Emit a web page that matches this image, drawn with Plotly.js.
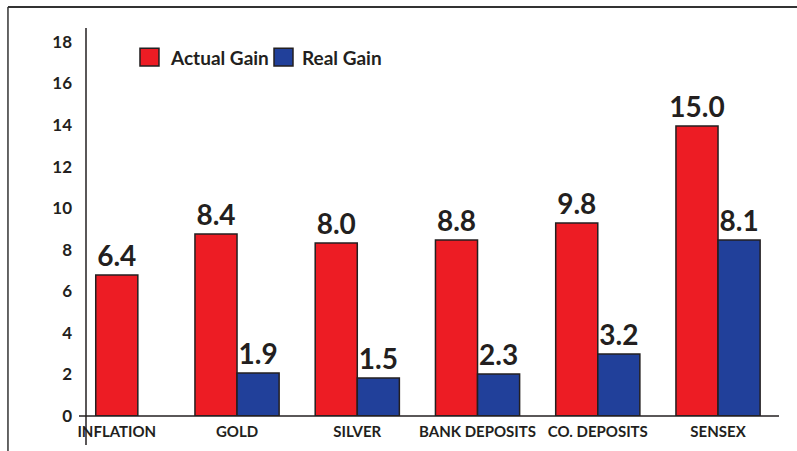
<!DOCTYPE html>
<html>
<head>
<meta charset="utf-8">
<script src="https://cdn.plot.ly/plotly-3.0.1.min.js"></script>
<style>html,body{margin:0;padding:0;background:#fff;}#chart{width:797px;height:451px;}</style>
</head>
<body>
<div id="chart"></div>
<script>
// Categories and tick labels
var categories = ['INFLATION', 'GOLD', 'SILVER', 'BANK DEPOSITS', 'CO. DEPOSITS', 'SENSEX'];
// Bar heights as drawn in the picture
var actualGain = [6.79, 8.76, 8.33, 8.47, 9.29, 13.96];
var realGain = [null, 2.07, 1.83, 2.02, 2.98, 8.47];
// Value labels printed above the bars
var actualLabels = ['6.4', '8.4', '8.0', '8.8', '9.8', '15.0'];
var realLabels = ['', '1.9', '1.5', '2.3', '3.2', '8.1'];
var seriesNames = ['Actual Gain', 'Real Gain'];
var yTicks = [0, 2, 4, 6, 8, 10, 12, 14, 16, 18];

var RED = '#ed1c24', BLUE = '#21409a', INK = '#231f20';
var FONT = 'Lato, "Open Sans", sans-serif';
var BAR_W = 0.35;

// a category with no real-gain bar has its single bar centred
var actualOffset = realGain.map(function (v) { return v === null ? -BAR_W / 2 : -BAR_W; });

var labelFont = {family: FONT, size: 28, color: INK, weight: 700};
var traces = [
  {type: 'bar', name: seriesNames[0], x: categories, y: actualGain, text: actualLabels,
   width: BAR_W, offset: actualOffset,
   textposition: 'outside', constraintext: 'none', cliponaxis: false, textfont: labelFont,
   marker: {color: RED, line: {color: INK, width: 1.5}}, hoverinfo: 'none'},
  {type: 'bar', name: seriesNames[1], x: categories, y: realGain, text: realLabels,
   width: BAR_W, offset: 0,
   textposition: 'outside', constraintext: 'none', cliponaxis: false, textfont: labelFont,
   marker: {color: BLUE, line: {color: INK, width: 1.5}}, hoverinfo: 'none'}
];

var lineCol = '#333333';
var layout = {
  width: 797, height: 451,
  margin: {l: 86, r: 18, t: 28, b: 35, pad: 0},
  paper_bgcolor: '#ffffff', plot_bgcolor: '#ffffff',
  showlegend: false,
  barmode: 'overlay',
  font: {family: FONT, color: INK},
  xaxis: {type: 'category', range: [-0.256, 5.507], showline: false, showgrid: false,
          zeroline: false, ticks: '', ticklabelstandoff: 5,
          tickfont: {family: FONT, size: 15, color: INK, weight: 700}, fixedrange: true},
  yaxis: {range: [0, 18.67], tickvals: yTicks, ticktext: yTicks.map(String),
          showline: false, showgrid: false, zeroline: false, ticks: '',
          ticklabelstandoff: 13,
          tickfont: {family: FONT, size: 17, color: INK, weight: 700}, fixedrange: true},
  shapes: [
    // outer frame (top and left)
    {type: 'line', xref: 'paper', yref: 'paper', x0: -0.1126, x1: 1.03, y0: 1.0541, y1: 1.0541,
     line: {color: lineCol, width: 2}},
    {type: 'line', xref: 'paper', yref: 'paper', x0: -0.1126, x1: -0.1126, y0: 1.0541, y1: -0.1,
     line: {color: lineCol, width: 1.5}},
    // y axis line (extends below baseline)
    {type: 'line', xref: 'paper', yref: 'paper', x0: 0, x1: 0, y0: 1.0, y1: -0.0747,
     line: {color: INK, width: 1.5}},
    // x axis line (extends left of y axis)
    {type: 'line', xref: 'paper', yref: 'paper', x0: -0.0101, x1: 1.0, y0: 0, y1: 0,
     line: {color: INK, width: 1.5}},
    // legend swatches
    {type: 'rect', xref: 'paper', yref: 'paper', x0: 0.0779, x1: 0.1053, y0: 0.902, y1: 0.948,
     fillcolor: RED, line: {color: INK, width: 1.5}},
    {type: 'rect', xref: 'paper', yref: 'paper', x0: 0.2713, x1: 0.2987, y0: 0.902, y1: 0.948,
     fillcolor: BLUE, line: {color: INK, width: 1.5}}
  ],
  annotations: [
    {xref: 'paper', yref: 'paper', x: 0.1183, y: 0.925, xanchor: 'left', yanchor: 'middle',
     text: seriesNames[0], showarrow: false,
     font: {family: FONT, size: 19, color: INK, weight: 700}},
    {xref: 'paper', yref: 'paper', x: 0.3088, y: 0.925, xanchor: 'left', yanchor: 'middle',
     text: seriesNames[1], showarrow: false,
     font: {family: FONT, size: 19, color: INK, weight: 700}}
  ]
};

Plotly.newPlot('chart', traces, layout, {displayModeBar: false, staticPlot: true});
</script>
</body>
</html>
